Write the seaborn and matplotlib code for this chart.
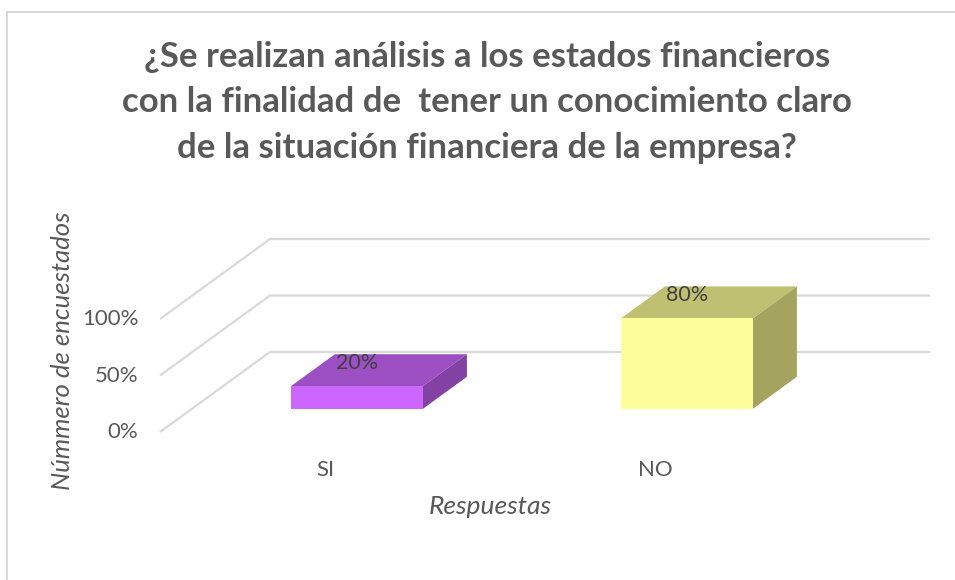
import matplotlib
matplotlib.use("Agg")
import matplotlib.pyplot as plt
import matplotlib.transforms as mtransforms
from matplotlib.patches import Polygon
from matplotlib.lines import Line2D
import pandas as pd
import seaborn as sns

# data
categories = ["SI", "NO"]
values = [0.20, 0.80]
value_labels = ["20%", "80%"]
ticks = [0.0, 0.5, 1.0]
tick_labels = ["0%", "50%", "100%"]
title_lines = [
    "¿Se realizan análisis a los estados financieros",
    "con la finalidad de  tener un conocimiento claro",
    "de la situación financiera de la empresa?",
]

front_colors = ["#CC66FF", "#FDFD99"]
top_colors = ["#9B4FC2", "#C0C072"]
side_colors = ["#8241A3", "#A4A460"]
text_color = "#595959"
grid_color = "#D9D9D9"

sns.set_theme(style="white")
plt.rcParams["font.family"] = ["Lato", "DejaVu Sans"]

W, H = 955, 580
fig = plt.figure(figsize=(W / 100, H / 100), dpi=100)
ax = fig.add_axes([0, 0, 1, 1])

# pixel <-> data mapping (category width = 330 px, 100% = 113 px)
px_x0, px_unit = 160, 330
py_0, py_unit = 432, 113

# oblique depth offset per unit of depth
dxu = 110 / px_unit
dyu = 80 / py_unit
bar_w, bar_d, bar_t = 0.4, 0.4, 0.29
x_left, x_right = -0.5, len(categories) - 0.5

# walls: left-side diagonals and back horizontals
for v in ticks:
    ax.plot([x_left, x_left + dxu, x_right + dxu], [v, v + dyu, v + dyu],
            color=grid_color, lw=1.6, zorder=1, solid_capstyle="butt")

df = pd.DataFrame({"Respuesta": categories, "valor": values})
sns.barplot(data=df, x="Respuesta", y="valor", hue="Respuesta",
            palette=front_colors, width=bar_w, ax=ax, legend=False,
            saturation=1, linewidth=0)
ax.set_axis_off()

# push the front faces back into the floor, then add top and side faces
shift = mtransforms.Affine2D().translate(bar_t * dxu, bar_t * dyu)
for i, p in enumerate(ax.patches):
    x0 = p.get_x() + bar_t * dxu
    w = p.get_width()
    h = p.get_height()
    y0 = bar_t * dyu
    ox, oy = bar_d * dxu, bar_d * dyu
    top = [(x0, y0 + h), (x0 + w, y0 + h), (x0 + w + ox, y0 + h + oy), (x0 + ox, y0 + h + oy)]
    side = [(x0 + w, y0), (x0 + w + ox, y0 + oy), (x0 + w + ox, y0 + h + oy), (x0 + w, y0 + h)]
    ax.add_patch(Polygon(top, closed=True, facecolor=top_colors[i], edgecolor="none", zorder=2))
    ax.add_patch(Polygon(side, closed=True, facecolor=side_colors[i], edgecolor="none", zorder=2))
    p.set_transform(shift + ax.transData)
    p.set_zorder(3)
    ax.text(x0 + w / 2, y0 + h + oy - 0.075, value_labels[i], ha="center", va="center",
            fontsize=15.5, color="#404040", zorder=4)

# y tick labels at the front ends of the wall lines
for v, lab in zip(ticks, tick_labels):
    ax.text(x_left - 0.065, v, lab, ha="right", va="center", fontsize=16, color=text_color)

# category labels
for i, lab in enumerate(categories):
    ax.text(i, -0.336, lab, ha="center", va="center", fontsize=16, color=text_color)

ax.set_xlim((0 - px_x0) / px_unit - 0.5, (W - px_x0) / px_unit - 0.5)
ax.set_ylim((py_0 - H) / py_unit, py_0 / py_unit)

fig.text(490 / W, 1 - 507 / H, "Respuestas", ha="center", va="center",
         fontsize=19, style="italic", color=text_color)
fig.text(63 / W, 1 - 351 / H, "Númmero de encuestados", ha="center", va="center",
         rotation=90, fontsize=18.5, style="italic", color=text_color)

for k, line in enumerate(title_lines):
    fig.text(487 / W, 1 - (57 + 45.5 * k) / H, line, ha="center", va="center",
             fontsize=25, fontweight="bold", color=text_color)

# chart frame (top and left edges visible)
fig.add_artist(Line2D([7 / W, 7 / W], [0, 1 - 12 / H], transform=fig.transFigure,
                      color="#D9D9D9", lw=1.5))
fig.add_artist(Line2D([7 / W, 1], [1 - 12 / H, 1 - 12 / H], transform=fig.transFigure,
                      color="#D9D9D9", lw=1.5))

fig.savefig("out.png", dpi=100, facecolor="white")
